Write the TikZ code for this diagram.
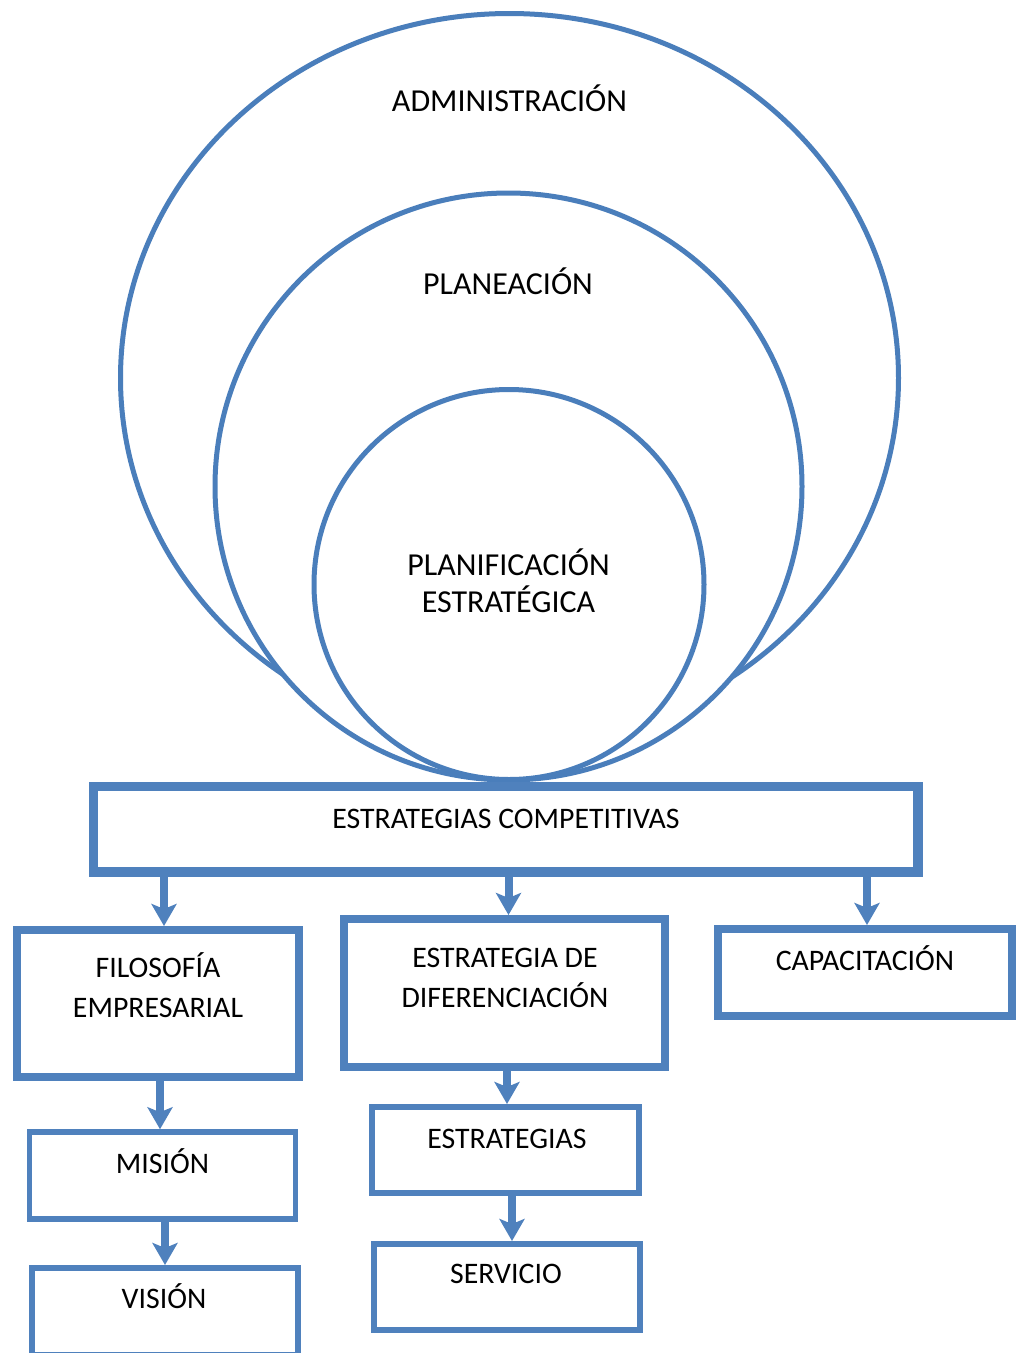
\documentclass[tikz,border=0pt]{standalone}
\usepackage{fontspec}
\setmainfont{Carlito}
\usetikzlibrary{arrows.meta}
\definecolor{boxblue}{HTML}{4F81BD}
\definecolor{ringblue}{HTML}{4A7EBB}
\newcommand\mytwolines[2]{\begin{tabular}[t]{@{}c@{}}#1\\#2\end{tabular}}
\begin{document}
\begin{tikzpicture}[x=1pt,y=-1pt,
  ring/.style={draw=ringblue, line width=5pt, fill=white},
  box/.style={draw=boxblue, fill=white, rectangle, inner sep=0pt},
  lbl/.style={anchor=base, inner sep=0pt, font=\fontsize{29.8}{40}\selectfont},
  rlbl/.style={anchor=base, inner sep=0pt, font=\fontsize{32}{35}\selectfont},
  arr/.style={draw=boxblue, line width=8pt, -{Stealth[length=22pt,width=25pt,inset=5pt]}}]
\useasboundingbox (0,0) rectangle (1019,1353);
\clip (0,0) rectangle (1019,1353);
\fill[white] (0,0) rectangle (1019,1353);

% nested circles
\draw[ring] (509.5,378) ellipse [x radius=389, y radius=364.5];
\draw[ring] (508.5,486.5) circle [radius=293.5];
\draw[ring] (509,584.5) circle [radius=195];
\node[rlbl] (t-adm) at (509.5,111) {ADMINISTRACIÓN};
\node[rlbl] (t-plan) at (508,294) {PLANEACIÓN};
\node[rlbl] (t-planif) at (508.5,575) {\mytwolines{PLANIFICACIÓN}{ESTRATÉGICA}};

% boxes
\node[box, line width=9.5pt, minimum width=824.5pt, minimum height=85.5pt] (comp) at (505.75,829.25) {};
\node[box, line width=8pt, minimum width=282pt, minimum height=147pt] (filo) at (158,1003.5) {};
\node[box, line width=8pt, minimum width=321pt, minimum height=148pt] (dif) at (504.5,993) {};
\node[box, line width=8pt, minimum width=294pt, minimum height=87pt] (cap) at (865,972.5) {};
\node[box, line width=5.5pt, minimum width=266pt, minimum height=87pt] (mis) at (162.5,1175.5) {};
\node[box, line width=6pt, minimum width=266pt, minimum height=87pt] (vis) at (165,1311.5) {};
\node[box, line width=6pt, minimum width=267pt, minimum height=86pt] (est) at (505.5,1150) {};
\node[box, line width=6pt, minimum width=266pt, minimum height=86pt] (serv) at (506.5,1287) {};

% texts
\node[lbl] (t-comp) at (506,828) {ESTRATEGIAS COMPETITIVAS};
\node[lbl] (t-filo) at (158,977) {\mytwolines{FILOSOFÍA}{EMPRESARIAL}};
\node[lbl] (t-dif) at (505,967) {\mytwolines{ESTRATEGIA DE}{DIFERENCIACIÓN}};
\node[lbl] (t-cap) at (865,970) {CAPACITACIÓN};
\node[lbl] (t-mis) at (162.5,1173) {MISIÓN};
\node[lbl] (t-vis) at (164,1308) {VISIÓN};
\node[lbl] (t-est) at (507,1148) {ESTRATEGIAS};
\node[lbl] (t-serv) at (506,1283) {SERVICIO};

% arrows
\coordinate (a1) at (164,0);
\coordinate (a2) at (508.5,0);
\coordinate (a3) at (867,0);
\coordinate (a4) at (160,0);
\coordinate (a5) at (165,0);
\coordinate (a6) at (507,0);
\coordinate (a7) at (512,0);
\draw[arr] (comp.south -| a1) -- (filo.north -| a1);
\draw[arr] (comp.south -| a2) -- (dif.north -| a2);
\draw[arr] (comp.south -| a3) -- (cap.north -| a3);
\draw[arr] (filo.south -| a4) -- (mis.north -| a4);
\draw[arr] (mis.south -| a5) -- (vis.north -| a5);
\draw[arr] (dif.south -| a6) -- (est.north -| a6);
\draw[arr] (est.south -| a7) -- (serv.north -| a7);
\end{tikzpicture}
\end{document}
